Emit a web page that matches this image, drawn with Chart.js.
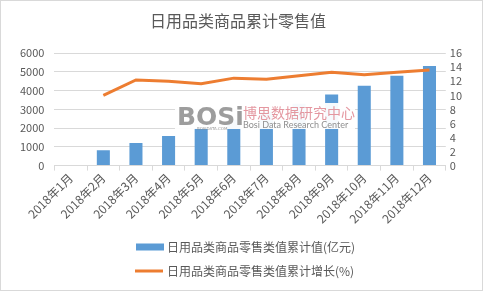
<!DOCTYPE html>
<html>
<head>
<meta charset="utf-8">
<script src="https://cdn.jsdelivr.net/npm/chart.js@4"></script>
<style>
  body { margin: 0; background: #fff; }
  #wrap { width: 483px; height: 291px; box-sizing: border-box; border: 1px solid #d9d9d9; position: relative; }
</style>
</head>
<body>
<div id="wrap"><canvas id="myChart"></canvas></div>
<script>
const months = ['2018年1月', '2018年2月', '2018年3月', '2018年4月', '2018年5月', '2018年6月',
    '2018年7月', '2018年8月', '2018年9月', '2018年10月', '2018年11月', '2018年12月'];
const retailValue = [null, 820, 1210, 1580, 2000, 2450, 2870, 3300, 3790, 4260, 4800, 5320];
const growthRate = [null, 10.0, 12.2, 12.0, 11.65, 12.45, 12.3, 12.8, 13.3, 12.95, 13.3, 13.6];
const titleText = '日用品类商品累计零售值';
const barLabel = '日用品类商品零售类值累计值(亿元)';
const lineLabel = '日用品类商品零售类值累计增长(%)';

const fontFamily = '"Noto Sans CJK SC", "DejaVu Sans", sans-serif';

// watermark box like the original picture
const watermark = {
    id: 'watermark',
    afterDatasetsDraw(chart) {
        const c = chart.ctx;
        c.save();
        c.fillStyle = 'rgba(255,255,255,0.95)';
        c.fillRect(174, 102, 180, 26);
        c.font = 'bold 25px "DejaVu Sans"';
        c.fillStyle = 'rgba(140,140,140,0.85)';
        c.fillText('BOSi', 176, 124);
        c.font = '4px "DejaVu Sans"';
        c.fillText('BOSIDATA.COM', 196, 129);
        c.font = '14px ' + fontFamily;
        c.fillStyle = 'rgba(225,140,150,0.9)';
        c.fillText('博思数据研究中心', 242, 117);
        c.font = '9px Lato';
        c.fillStyle = 'rgba(130,130,130,0.9)';
        c.fillText('Bosi Data Research Center', 242, 127);
        c.restore();
    }
};

// legend stacked in two rows, left aligned
const stackedLegend = {
    id: 'stackedLegend',
    afterDraw(chart) {
        const c = chart.ctx;
        const items = [chart.data.datasets[1], chart.data.datasets[0]];
        c.save();
        c.font = '12px ' + fontFamily;
        c.textBaseline = 'middle';
        items.forEach(function (ds, i) {
            const y = 246 + i * 24;
            if (ds.type === 'bar') {
                c.fillStyle = ds.backgroundColor;
                c.fillRect(135, y - 3.5, 28, 7);
            } else {
                c.strokeStyle = ds.borderColor;
                c.lineWidth = 3;
                c.beginPath();
                c.moveTo(134, y);
                c.lineTo(162, y);
                c.stroke();
            }
            c.fillStyle = '#595959';
            c.fillText(ds.label, 166, y);
        });
        c.restore();
    }
};

function myLoadFunction() {
    const ctx = document.getElementById('myChart').getContext('2d');
    var myChartConfig = {
        data: {
            labels: months,
            datasets: [
                {
                    type: 'line',
                    label: lineLabel,
                    data: growthRate,
                    yAxisID: 'y1',
                    borderColor: '#ED7D31',
                    backgroundColor: '#ED7D31',
                    borderWidth: 3,
                    pointRadius: 0,
                    tension: 0,
                    order: 1
                },
                {
                    type: 'bar',
                    label: barLabel,
                    data: retailValue,
                    yAxisID: 'y',
                    backgroundColor: '#5B9BD5',
                    categoryPercentage: 0.8,
                    barPercentage: 0.5,
                    order: 2
                }
            ]
        },
        options: {
            responsive: true,
            maintainAspectRatio: false,
            animation: false,
            layout: { padding: { left: 9, right: 16, top: 0, bottom: 64 } },
            plugins: {
                title: {
                    display: true,
                    text: titleText,
                    color: '#595959',
                    font: { family: fontFamily, size: 16, weight: 'normal' },
                    padding: { top: 10, bottom: 23 }
                },
                legend: { display: false },
                tooltip: { enabled: false }
            },
            scales: {
                x: {
                    offset: true,
                    grid: { drawOnChartArea: false, offset: true, tickLength: 5, color: '#d9d9d9' },
                    border: { color: '#d9d9d9' },
                    ticks: { color: '#595959', font: { family: fontFamily, size: 12 }, minRotation: 45, maxRotation: 45, padding: 0 }
                },
                y: {
                    position: 'left',
                    min: 0,
                    max: 6000,
                    ticks: {
                        stepSize: 1000, padding: 10, color: '#595959', autoSkip: false,
                        font: { family: fontFamily, size: 11 },
                        callback: function (v) { return String(v); }
                    },
                    grid: { color: '#d9d9d9', drawTicks: false },
                    border: { display: false }
                },
                y1: {
                    position: 'right',
                    min: 0,
                    max: 16,
                    ticks: { stepSize: 2, padding: 4, color: '#595959', autoSkip: false, font: { family: fontFamily, size: 11 } },
                    grid: { drawOnChartArea: false, drawTicks: false },
                    border: { display: false }
                }
            }
        },
        plugins: [watermark, stackedLegend]
    };
    const myChart = new Chart(ctx, myChartConfig);
}

document.addEventListener('DOMContentLoaded', myLoadFunction);
</script>
</body>
</html>
